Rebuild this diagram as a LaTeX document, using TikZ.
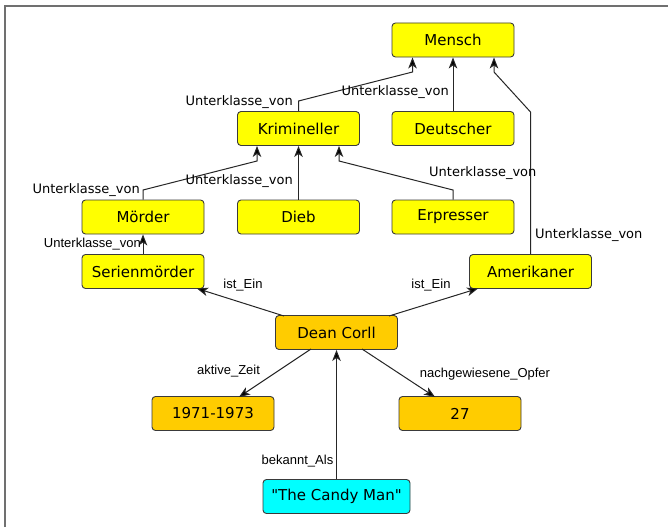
\documentclass[tikz,border=0pt]{standalone}
\usepackage{fontspec}
\setmainfont{DejaVu Sans}
\newfontfamily\lib{Liberation Sans}
\newfontfamily\nolig{DejaVu Sans}[Ligatures=TeXOff]
\usetikzlibrary{arrows.meta}
\definecolor{cyel}{HTML}{FFFF00}
\definecolor{corg}{HTML}{FFCC00}
\definecolor{ccya}{HTML}{00FFFF}
\definecolor{cbrd}{HTML}{3A3A3A}
\definecolor{cfrm}{HTML}{707070}
\tikzset{
  box/.style={draw=cbrd, line width=0.9pt, rounded corners=3.5pt, minimum width=122pt, minimum height=34pt, inner sep=2pt, font=\fontsize{15}{18}\selectfont},
  ybox/.style={box, fill=cyel},
  obox/.style={box, fill=corg},
  cbox/.style={box, fill=ccya, minimum width=147pt},
  arr/.style={draw=black!85, line width=1pt, -{Stealth[length=11pt,width=8.5pt,inset=3pt,fill=black]}},
  ulab/.style={inner sep=0pt, font=\fontsize{13}{15}\selectfont},
  llab/.style={inner sep=0pt, font=\lib\fontsize{13}{15}\selectfont},
}
\begin{document}
\begin{tikzpicture}[x=1pt,y=-1pt]
\useasboundingbox (0,0) rectangle (668,527);
\fill[white] (0,0) rectangle (668,527);
\draw[cfrm, line width=2pt] (5,527) -- (5,6) -- (668,6);

\node[ybox] (mensch) at (453,40) {Mensch};
\node[ybox] (krim) at (298.5,128.5) {Krimineller};
\node[ybox] (deut) at (453,128.5) {Deutscher};
\node[ybox] (moerd) at (143,217) {Mörder};
\node[ybox] (dieb) at (298.5,217) {Dieb};
\node[ybox] (erpr) at (453,217) {Erpresser};
\node[ybox] (serien) at (143,271.5) {Serienmörder};
\node[ybox] (amer) at (530.5,271.5) {Amerikaner};
\node[obox] (dean) at (336.5,332.5) {Dean Corll};
\node[obox] (zeit) at (213,413.5) {1971-1973};
\node[obox] (opfer) at (460,413.5) {27};
\node[cbox] (candy) at (336.5,496.5) {\nolig "The Candy Man"};

\coordinate (k1) at (298.5,101);
\coordinate (k2) at (412.5,72);
\coordinate (a1) at (530.5,112);
\coordinate (a2) at (494,72);
\coordinate (m1) at (143,190);
\coordinate (m2) at (257,161);
\coordinate (e1) at (453,190);
\coordinate (e2) at (339,161);

\draw[arr] (krim.north) -- (k1) -- (k2) -- (k2 |- mensch.south);
\draw[arr] (deut.north) -- (mensch.south);
\draw[arr] (amer.north) -- (a1) -- (a2) -- (a2 |- mensch.south);
\draw[arr] (moerd.north) -- (m1) -- (m2) -- (m2 |- krim.south);
\draw[arr] (dieb.north) -- (krim.south);
\draw[arr] (erpr.north) -- (e1) -- (e2) -- (e2 |- krim.south);
\draw[arr] (serien.north) -- (moerd.south);

\coordinate (d1) at (284,316);
\coordinate (d2) at (389,316);
\coordinate (d3) at (311,349);
\coordinate (d4) at (362,349);
\coordinate (s1) at (197,288.5);
\coordinate (s2) at (478,288.5);
\coordinate (s3) at (239,397);
\coordinate (s4) at (435,397);
\draw[arr] (d1) -- (s1);
\draw[arr] (d2) -- (s2);
\draw[arr] (d3) -- (s3);
\draw[arr] (d4) -- (s4);
\draw[arr] (candy.north) -- (dean.south);

\node[ulab, anchor=east] (l1) at (293,102) {Unterklasse\_von};
\node[ulab, anchor=east] (l2) at (449,92) {Unterklasse\_von};
\node[ulab, anchor=west] (l3) at (535,235) {Unterklasse\_von};
\node[ulab, anchor=east] (l4) at (140,190) {Unterklasse\_von};
\node[ulab, anchor=east] (l5) at (293,181) {Unterklasse\_von};
\node[ulab, anchor=west] (l6) at (429,173) {Unterklasse\_von};
\node[llab, anchor=east] (l7) at (141,244) {Unterklasse\_von};
\node[llab] (l8) at (243,285) {ist\_Ein};
\node[llab] (l9) at (431,285) {ist\_Ein};
\node[llab] (l10) at (228.5,371) {aktive\_Zeit};
\node[llab] (l11) at (485,374) {nachgewiesene\_Opfer};
\node[llab] (l12) at (297.5,461) {bekannt\_Als};
\end{tikzpicture}
\end{document}
